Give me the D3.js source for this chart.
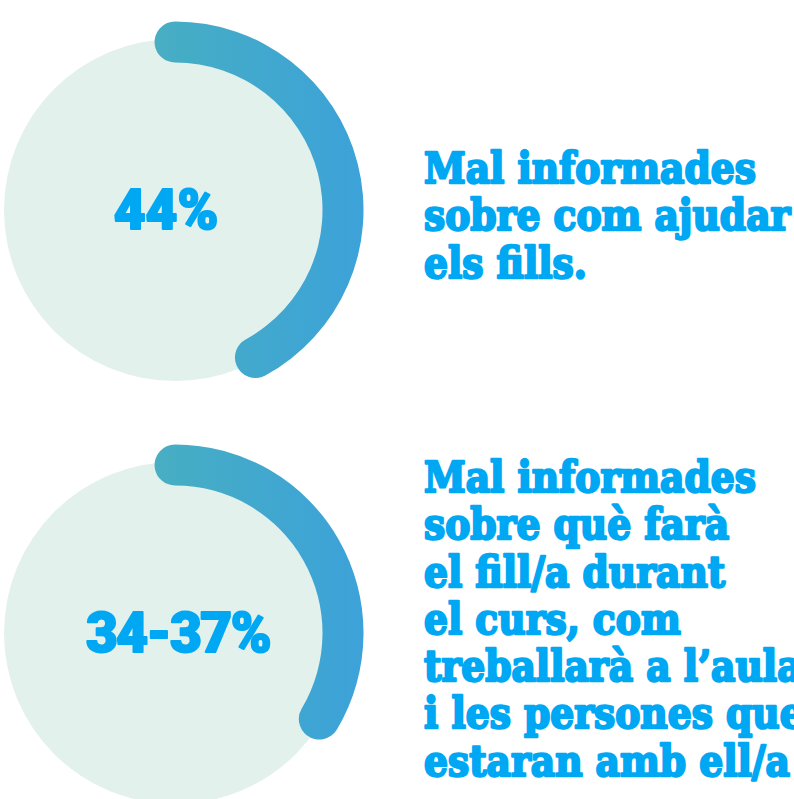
<!DOCTYPE html>
<html>
<head>
<meta charset="utf-8">
<script src="https://cdn.jsdelivr.net/npm/d3@7"></script>
<style>
  html, body { margin: 0; padding: 0; background: #fff; }
  svg { display: block; }
</style>
</head>
<body>
<div id="rings"></div>
<script>

// data
const labels = ["44%", "34-37%"];
const values = [44, 35.5];   // 34-37% drawn at the middle of the range
const captions = [
  ["Mal informades", "sobre com ajudar", "els fills."],
  ["Mal informades", "sobre què farà", "el fill/a durant", "el curs, com",
   "treballarà a l’aula", "i les persones que", "estaran amb ell/a"]
];
const captionTops = [183, 492];   // baseline of first caption line

const width = 794;
const height = 799;
const blue = "#00a8f3";

const ringR = 168;      // centre line of the arc
const ringW = 41;       // arc thickness
const discR = 171;
const capAngle = (ringW / 2) / ringR;

const svg = d3
  .select("#rings")
  .append("svg")
  .attr("width", width)
  .attr("height", height)
  .attr("viewBox", [0, 0, width, height]);

// horizontal teal -> blue gradient on the arc
const grad = svg.append("defs")
  .append("linearGradient")
  .attr("id", "arcGrad")
  .attr("x1", "0%").attr("x2", "100%")
  .attr("y1", "0%").attr("y2", "0%");
grad.append("stop").attr("offset", "0%").attr("stop-color", "#47aec3");
grad.append("stop").attr("offset", "100%").attr("stop-color", "#3ca2d9");

// scales
const yScale = d3.scalePoint()
  .domain(d3.range(labels.length))
  .range([210, 633]);

const angle = d3.scaleLinear()
  .domain([0, 100])
  .range([0, 2 * Math.PI]);

const arc = d3.arc()
  .innerRadius(ringR - ringW / 2)
  .outerRadius(ringR + ringW / 2)
  .cornerRadius(ringW / 2)
  .startAngle(-capAngle)
  .endAngle(d => angle(d));

const cx = 175;

const rings = svg.selectAll(".ring")
  .data(values)
  .enter()
  .append("g")
  .attr("class", "ring")
  .attr("transform", (d, i) => `translate(${cx}, ${yScale(i)})`);

rings.append("circle")
  .attr("r", discR)
  .attr("fill", "#e2f1ec");

rings.append("path")
  .attr("d", d => arc(d))
  .attr("fill", "url(#arcGrad)");

rings.append("text")
  .text((d, i) => labels[i])
  .attr("x", (d, i) => i === 0 ? -9 : 3)
  .attr("y", 19)
  .attr("text-anchor", "middle")
  .attr("font-family", "Roboto, 'Noto Sans', sans-serif")
  .attr("font-weight", 900)
  .attr("font-size", "55px")
  .attr("letter-spacing", (d, i) => i === 0 ? "0px" : "-1.5px")
  .attr("fill", blue)
  .attr("stroke", blue)
  .attr("stroke-width", 2)
  .attr("stroke-linejoin", "round");

// captions on the right
const lineGap = 47.3;
const textX = 424;

captions.forEach((lines, i) => {
  const g = svg.append("g")
    .attr("transform", `translate(${textX}, ${captionTops[i]})`);

  const t = g.selectAll("text")
    .data(lines)
    .enter()
    .append("text")
    .text(d => d)
    .attr("y", (d, j) => j * lineGap)
    .attr("font-family", "'DejaVu Serif', serif")
    .attr("font-weight", "bold")
    .attr("font-size", "42px")
    .attr("fill", blue)
    .attr("stroke", blue)
    .attr("stroke-width", 2.4)
    .attr("stroke-linejoin", "round");

  // squeeze so "Mal informades" is as wide as in the picture
  const w = t.node().getComputedTextLength();
  t.attr("transform", `scale(${332 / w}, 1)`);
});

</script>
</body>
</html>
